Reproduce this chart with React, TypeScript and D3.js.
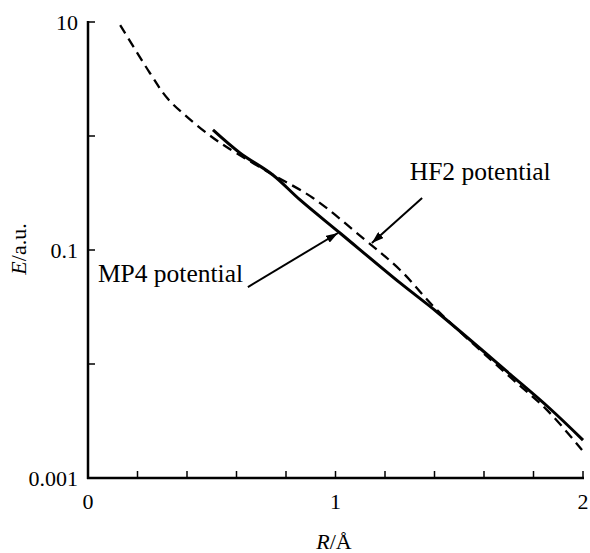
import React, { useEffect, useRef } from 'react';
import * as d3 from 'd3';

// MP4 potential (solid)
const mp4R = [0.505, 0.614, 0.747, 0.857, 1.018, 1.261, 1.41, 1.705, 1.867, 2.0];
const mp4E = [1.13, 0.71, 0.455, 0.275, 0.141, 0.0514, 0.0286, 0.00816, 0.00405, 0.00215];

// HF2 potential (dashed)
const hf2R = [0.13, 0.25, 0.32, 0.4, 0.49, 0.56, 0.735, 0.909, 1.111, 1.261, 1.41, 1.705, 1.855, 1.996];
const hf2E = [9.4, 3.57, 2.15, 1.47, 1.02, 0.8, 0.473, 0.286, 0.127, 0.0668, 0.0298, 0.00769, 0.00394, 0.00176];

const yTickValues = [10, 1, 0.1, 0.01, 0.001];
const yTickLabels = ['10', '', '0.1', '', '0.001'];
const xTickValues = [0, 0.2, 0.4, 0.6, 0.8, 1, 1.2, 1.4, 1.6, 1.8, 2];
const xTickLabels = ['0', '', '', '', '', '1', '', '', '', '', '2'];

// annotations: label position, arrow tail, arrow tip (data units)
const notes = [
  { text: 'MP4 potential', lx: 0.04, ly: 0.052, tx: 0.646, ty: 0.0473, hx: 1.01, hy: 0.141 },
  { text: 'HF2 potential', lx: 1.3, ly: 0.41, tx: 1.35, ty: 0.286, hx: 1.147, hy: 0.115 },
];

const App = () => {
  const chartRef = useRef(null);

  useEffect(() => {
    const width = 590;
    const height = 553;
    const font = '"Liberation Serif", "Times New Roman", serif';

    const xScale = d3.scaleLinear().domain([0, 2]).range([88, 583]);
    const yScale = d3.scaleLog().domain([0.001, 10]).range([478, 22]);

    const svg = d3.select(chartRef.current)
      .attr('width', width)
      .attr('height', height);
    svg.selectAll('*').remove();

    const defs = svg.append('defs');
    defs.append('marker')
      .attr('id', 'arrow')
      .attr('viewBox', '0 0 12 8')
      .attr('refX', 12)
      .attr('refY', 4)
      .attr('markerWidth', 12)
      .attr('markerHeight', 8)
      .attr('markerUnits', 'userSpaceOnUse')
      .attr('orient', 'auto')
      .append('path')
      .attr('d', 'M0,0 L12,4 L0,8 Z')
      .attr('fill', '#000');

    const line = d3.line()
      .x(d => xScale(d[0]))
      .y(d => yScale(d[1]))
      .curve(d3.curveCatmullRom);

    svg.append('path')
      .datum(hf2R.map((r, i) => [r, hf2E[i]]))
      .attr('d', line)
      .attr('fill', 'none')
      .attr('stroke', '#000')
      .attr('stroke-width', 2.3)
      .attr('stroke-dasharray', '10,6');

    svg.append('path')
      .datum(mp4R.map((r, i) => [r, mp4E[i]]))
      .attr('d', line)
      .attr('fill', 'none')
      .attr('stroke', '#000')
      .attr('stroke-width', 3);

    // y axis
    const yAxis = svg.append('g');
    yAxis.append('line')
      .attr('x1', xScale(0)).attr('x2', xScale(0))
      .attr('y1', yScale(10) - 1).attr('y2', yScale(0.001) + 1)
      .attr('stroke', '#000').attr('stroke-width', 2.5);
    yAxis.selectAll('.ytick')
      .data(yTickValues)
      .enter().append('line')
      .attr('x1', xScale(0)).attr('x2', xScale(0) + 7)
      .attr('y1', d => yScale(d)).attr('y2', d => yScale(d))
      .attr('stroke', '#000').attr('stroke-width', 1.5);
    yAxis.selectAll('.ylab')
      .data(yTickValues)
      .enter().append('text')
      .attr('x', xScale(0) - 10)
      .attr('y', d => yScale(d))
      .attr('dy', '0.35em')
      .attr('text-anchor', 'end')
      .attr('font-family', font)
      .attr('font-size', 22)
      .text((d, i) => yTickLabels[i]);

    // x axis
    const xAxis = svg.append('g');
    xAxis.append('line')
      .attr('x1', xScale(0) - 1).attr('x2', xScale(2) + 1)
      .attr('y1', yScale(0.001)).attr('y2', yScale(0.001))
      .attr('stroke', '#000').attr('stroke-width', 2.5);
    xAxis.selectAll('.xtick')
      .data(xTickValues)
      .enter().append('line')
      .attr('x1', d => xScale(d)).attr('x2', d => xScale(d))
      .attr('y1', yScale(0.001)).attr('y2', yScale(0.001) - 7)
      .attr('stroke', '#000').attr('stroke-width', 1.5);
    xAxis.selectAll('.xlab')
      .data(xTickValues)
      .enter().append('text')
      .attr('x', d => xScale(d))
      .attr('y', 509)
      .attr('text-anchor', 'middle')
      .attr('font-family', font)
      .attr('font-size', 22)
      .text((d, i) => xTickLabels[i]);

    // axis titles
    const xt = svg.append('text')
      .attr('x', 334)
      .attr('y', 549)
      .attr('text-anchor', 'middle')
      .attr('font-family', font)
      .attr('font-size', 22);
    xt.append('tspan').attr('font-style', 'italic').text('R');
    xt.append('tspan').text('/Å');

    const yt = svg.append('text')
      .attr('transform', 'translate(26,249) rotate(-90)')
      .attr('text-anchor', 'middle')
      .attr('font-family', font)
      .attr('font-size', 22);
    yt.append('tspan').attr('font-style', 'italic').text('E');
    yt.append('tspan').text('/a.u.');

    // annotations
    notes.forEach(n => {
      svg.append('line')
        .attr('x1', xScale(n.tx)).attr('y1', yScale(n.ty))
        .attr('x2', xScale(n.hx)).attr('y2', yScale(n.hy))
        .attr('stroke', '#000')
        .attr('stroke-width', 2)
        .attr('marker-end', 'url(#arrow)');
      svg.append('text')
        .attr('x', xScale(n.lx))
        .attr('y', yScale(n.ly))
        .attr('font-family', font)
        .attr('font-size', 25.5)
        .text(n.text);
    });
  }, []);

  return (
    <div style={{ position: 'absolute', left: 0, top: 0, width: 590, height: 553, background: '#fff' }}>
      <svg ref={chartRef}></svg>
    </div>
  );
};

export default App;
